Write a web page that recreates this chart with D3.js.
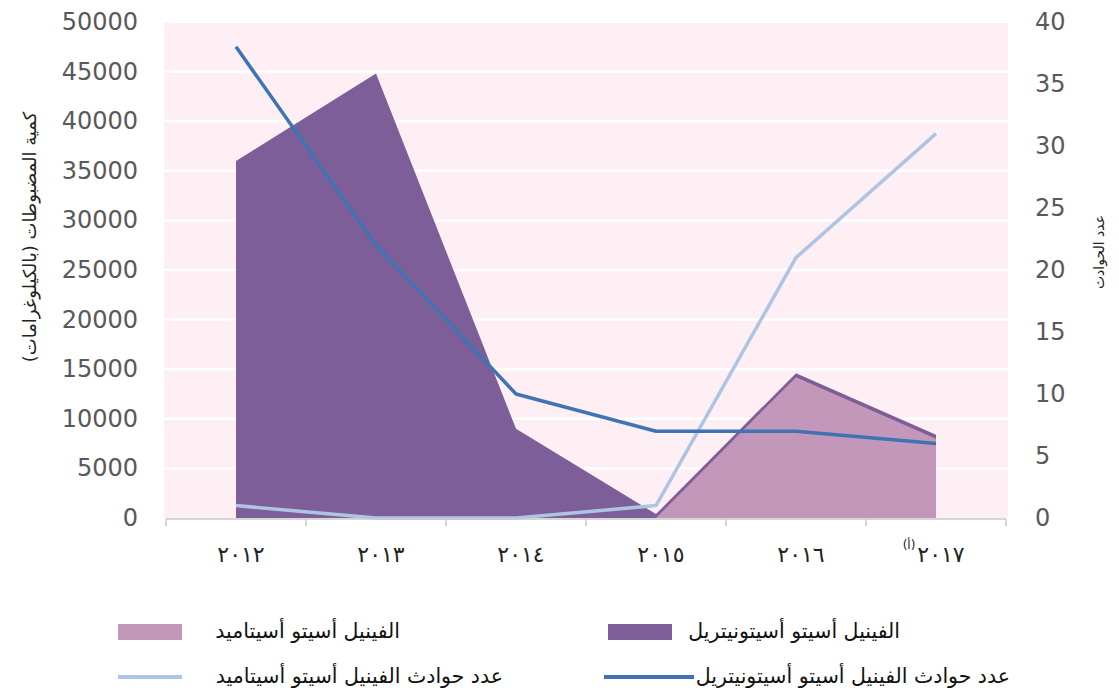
<!DOCTYPE html>
<html>
<head>
<meta charset="utf-8">
<script src="https://cdn.jsdelivr.net/npm/d3@7"></script>
<style>
  body { margin: 0; background: #fff; }
  text { font-family: "DejaVu Sans", sans-serif; }
</style>
</head>
<body>
<svg id="chart" width="1119" height="691"></svg>
<script>
// data
const years = ["2012", "2013", "2014", "2015", "2016", "2017"];
const yearLabels = ["٢٠١٢", "٢٠١٣", "٢٠١٤", "٢٠١٥", "٢٠١٦", "٢٠١٧"];
const apaanKg = [36000, 44800, 9000, 400, 14600, 8400];   // الفينيل أسيتو أسيتونيتريل
const apaaKg = [0, 0, 0, 0, 14200, 8000];                 // الفينيل أسيتو أسيتاميد
const apaanCases = [38, 22, 10, 7, 7, 6];
const apaaCases = [1, 0, 0, 1, 21, 31];
const leftTicks = [0, 5000, 10000, 15000, 20000, 25000, 30000, 35000, 40000, 45000, 50000];
const rightTicks = [0, 5, 10, 15, 20, 25, 30, 35, 40];

const svg = d3.select("#chart");
const plotL = 166, plotR = 1006, plotT = 22, plotB = 518;

let x = d3.scaleBand().domain(years).range([plotL, plotR]).padding(0);
let cx = d => x(d) + x.bandwidth() / 2;
let yL = d3.scaleLinear().domain([0, 50000]).range([plotB, plotT]);
let yR = d3.scaleLinear().domain([0, 40]).range([plotB, plotT]);

// plot background + white gridlines
svg.append("rect")
  .attr("x", plotL - 2).attr("y", plotT + 1)
  .attr("width", plotR - plotL + 4).attr("height", plotB - plotT - 1)
  .attr("fill", "#fdeff4");

svg.append("g").selectAll("line")
  .data(leftTicks.slice(1, -1))
  .enter().append("line")
  .attr("x1", plotL - 2).attr("x2", plotR + 2)
  .attr("y1", d => yL(d)).attr("y2", d => yL(d))
  .attr("stroke", "#fff").attr("stroke-width", 2.5);

// areas (not stacked, pink drawn over purple)
let areaL = d3.area()
  .x((d, i) => cx(years[i]))
  .y0(plotB)
  .y1(d => yL(d));

svg.append("path")
  .datum(apaanKg)
  .attr("d", areaL)
  .attr("fill", "#7e5e98");

svg.append("path")
  .datum(apaaKg.slice(3))
  .attr("d", d3.area().x((d, i) => cx(years[i + 3])).y0(plotB).y1(d => yL(d)))
  .attr("fill", "#c397ba");

// lines on right axis
let lineR = d3.line()
  .x((d, i) => cx(years[i]))
  .y(d => yR(d));

svg.append("path")
  .datum(apaaCases)
  .attr("d", lineR)
  .attr("fill", "none")
  .attr("stroke", "#adc5e3")
  .attr("stroke-width", 3.5)
  .attr("stroke-linejoin", "round");

svg.append("path")
  .datum(apaanCases)
  .attr("d", lineR)
  .attr("fill", "none")
  .attr("stroke", "#3f73b4")
  .attr("stroke-width", 3.5)
  .attr("stroke-linejoin", "round");

// x axis
svg.append("line")
  .attr("x1", plotL).attr("x2", plotR)
  .attr("y1", plotB + 1).attr("y2", plotB + 1)
  .attr("stroke", "#c8c8c8").attr("stroke-width", 1.5);

svg.append("g").selectAll("line")
  .data(years.concat(["end"]))
  .enter().append("line")
  .attr("x1", d => d === "end" ? plotR : x(d))
  .attr("x2", d => d === "end" ? plotR : x(d))
  .attr("y1", plotB + 1).attr("y2", plotB + 8)
  .attr("stroke", "#c8c8c8").attr("stroke-width", 1.5);

svg.append("g").selectAll("text")
  .data(years)
  .enter().append("text")
  .attr("x", d => cx(d) + 5)
  .attr("y", 562)
  .attr("text-anchor", "middle")
  .attr("font-size", 22)
  .attr("letter-spacing", 4)
  .attr("fill", "#222")
  .text((d, i) => yearLabels[i]);

// note marker for 2017
svg.append("text")
  .attr("x", 909)
  .attr("y", 549)
  .attr("text-anchor", "middle")
  .attr("font-size", 12)
  .attr("fill", "#222")
  .text("(أ)");

// left axis labels
svg.append("g").selectAll("text")
  .data(leftTicks)
  .enter().append("text")
  .attr("x", 138)
  .attr("y", d => yL(d) + 8)
  .attr("text-anchor", "end")
  .attr("font-family", "'Open Sans', sans-serif")
  .attr("font-size", 24)
  .attr("fill", "#595959")
  .text(d => d);

// right axis labels
svg.append("g").selectAll("text")
  .data(rightTicks)
  .enter().append("text")
  .attr("x", 1035)
  .attr("y", d => yR(d) + 8)
  .attr("text-anchor", "start")
  .attr("font-family", "'Open Sans', sans-serif")
  .attr("font-size", 24)
  .attr("fill", "#595959")
  .text(d => d);

// axis titles
svg.append("text")
  .attr("transform", "translate(36,237) rotate(-90)")
  .attr("text-anchor", "middle")
  .attr("font-size", 18)
  .attr("fill", "#222")
  .text("كمية المضبوطات (بالكيلوغرامات)");

svg.append("text")
  .attr("transform", "translate(1104,252) rotate(-90)")
  .attr("text-anchor", "middle")
  .attr("font-size", 14)
  .attr("fill", "#222")
  .text("عدد الحوادث");

// legend
const legendItems = [
  { label: "الفينيل أسيتو أسيتاميد", color: "#c397ba", kind: "rect", x: 118, y: 632, tx: 400 },
  { label: "الفينيل أسيتو أسيتونيتريل", color: "#7e5e98", kind: "rect", x: 608, y: 632, tx: 900 },
  { label: "عدد حوادث الفينيل أسيتو أسيتاميد", color: "#adc5e3", kind: "line", x: 118, y: 677, tx: 503 },
  { label: "عدد حوادث الفينيل أسيتو أسيتونيتريل", color: "#3f73b4", kind: "line", x: 604, y: 677, tx: 1010 }
];

let lg = svg.append("g").selectAll("g")
  .data(legendItems)
  .enter().append("g");

lg.filter(d => d.kind === "rect").append("rect")
  .attr("x", d => d.x).attr("y", d => d.y - 8)
  .attr("width", 64).attr("height", 16)
  .attr("fill", d => d.color);

lg.filter(d => d.kind === "line").append("line")
  .attr("x1", d => d.x).attr("x2", d => d.x + 64 + (d.x > 300 ? 26 : 0))
  .attr("y1", d => d.y).attr("y2", d => d.y)
  .attr("stroke", d => d.color).attr("stroke-width", 4);

lg.append("text")
  .attr("x", d => d.tx)
  .attr("y", d => d.y + 6)
  .attr("text-anchor", "end")
  .attr("font-size", 20.5)
  .attr("fill", "#111")
  .text(d => d.label);
</script>
</body>
</html>
